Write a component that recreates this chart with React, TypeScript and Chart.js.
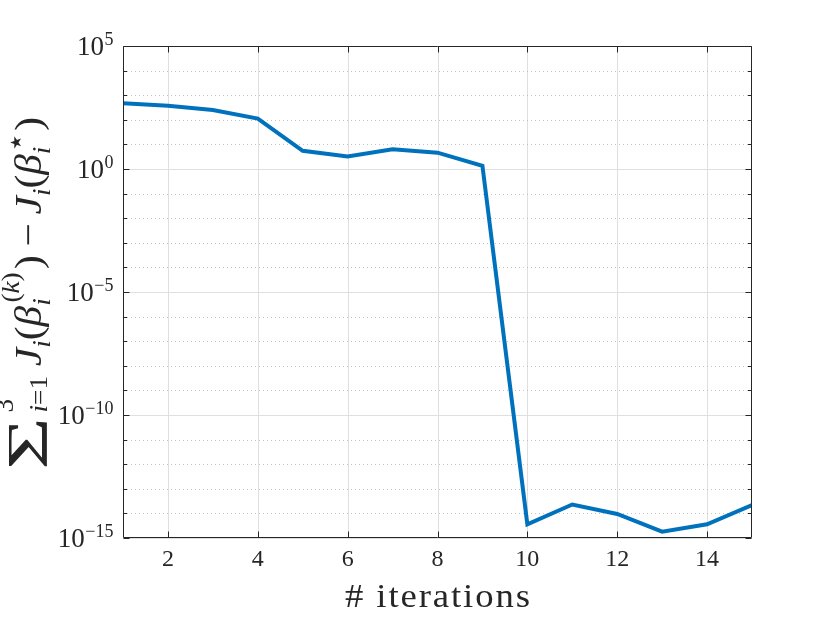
import React, { useEffect, useRef } from 'react';
import { Chart, registerables } from 'chart.js';

Chart.register(...registerables);

// ---- data ----
const iterations = [1, 2, 3, 4, 5, 6, 7, 8, 9, 10, 11, 12, 13, 14, 15];
const residual = [470, 370, 250, 112, 5.5, 3.2, 6.3, 4.6, 1.35, 3.6e-15, 2.3e-14, 9.5e-15, 1.8e-15, 3.6e-15, 2.2e-14];

const xTicks = [2, 4, 6, 8, 10, 12, 14];
const xTickLabels = ['2', '4', '6', '8', '10', '12', '14'];
const yDecades = [1e-15, 1e-14, 1e-13, 1e-12, 1e-11, 1e-10, 1e-9, 1e-8, 1e-7, 1e-6, 1e-5, 1e-4, 1e-3, 1e-2, 1e-1, 1e0, 1e1, 1e2, 1e3, 1e4, 1e5];
const yMajor = [1e-15, 1e-10, 1e-5, 1e0, 1e5];
const yMajorExpLabels = ['\u221215', '\u221210', '\u22125', '0', '5'];
const xTitle = '# iterations';

const AX = '#262626';
const LINE = '#0072BD';
const SERIF = '"Liberation Serif", "DejaVu Serif", serif';

type Run = { t: string; f: string; dv: number; du?: number };
type Item =
  | { kind: 'runs'; runs: Run[] }
  | { kind: 'stack'; sup: Run[]; sub: Run[] }
  | { kind: 'gap'; w: number }
  | { kind: 'sigma'; w: number };

const M = 38;
const S = 25;
const rom = (s: number) => `${s}px ${SERIF}`;
const ita = (s: number) => `italic ${s}px ${SERIF}`;
const SUP = -22;
const SUB = 9;

const yTitleItems: Item[] = [
  { kind: 'sigma', w: 46 },
  { kind: 'gap', w: 4 },
  {
    kind: 'stack',
    sup: [{ t: '3', f: rom(S), dv: -28 }],
    sub: [{ t: 'i', f: ita(S), dv: 6 }, { t: '=1', f: rom(S), dv: 6 }],
  },
  { kind: 'gap', w: 9 },
  { kind: 'runs', runs: [{ t: 'J', f: ita(M), dv: 0 }, { t: 'i', f: ita(S), dv: SUB }, { t: '(', f: rom(M), dv: 0 }, { t: '\u03B2', f: ita(M), dv: 0 }] },
  {
    kind: 'stack',
    sup: [{ t: '(', f: rom(S), dv: SUP, du: 3 }, { t: 'k', f: ita(S), dv: SUP }, { t: ')', f: rom(S), dv: SUP }],
    sub: [{ t: 'i', f: ita(S), dv: SUB }],
  },
  { kind: 'gap', w: 3 },
  { kind: 'runs', runs: [{ t: ')', f: rom(M), dv: 0 }] },
  { kind: 'gap', w: 8 },
  { kind: 'runs', runs: [{ t: '\u2212', f: rom(M), dv: 0 }] },
  { kind: 'gap', w: 8 },
  { kind: 'runs', runs: [{ t: 'J', f: ita(M), dv: 0 }, { t: 'i', f: ita(S), dv: SUB }, { t: '(', f: rom(M), dv: 0 }, { t: '\u03B2', f: ita(M), dv: 0 }] },
  {
    kind: 'stack',
    sup: [{ t: '\u2605', f: `15px "DejaVu Sans", ${SERIF}`, dv: SUP + 2, du: 4 }],
    sub: [{ t: 'i', f: ita(S), dv: SUB }],
  },
  { kind: 'gap', w: 4 },
  { kind: 'runs', runs: [{ t: ')', f: rom(M), dv: 0 }] },
];

function runsWidth(ctx: CanvasRenderingContext2D, runs: Run[]) {
  let w = 0;
  for (const r of runs) {
    ctx.font = r.f;
    w += ctx.measureText(r.t).width + (r.du || 0);
  }
  return w;
}

function itemWidth(ctx: CanvasRenderingContext2D, it: Item) {
  if (it.kind === 'runs') return runsWidth(ctx, it.runs);
  if (it.kind === 'stack') return Math.max(runsWidth(ctx, it.sup), runsWidth(ctx, it.sub));
  return it.w;
}

function drawRuns(ctx: CanvasRenderingContext2D, runs: Run[], u: number) {
  for (const r of runs) {
    ctx.font = r.f;
    u += r.du || 0;
    ctx.fillText(r.t, u, r.dv);
    u += ctx.measureText(r.t).width;
  }
}

function drawYTitle(ctx: CanvasRenderingContext2D, baseX: number, centerY: number, targetLen: number) {
  ctx.save();
  ctx.fillStyle = AX;
  ctx.textAlign = 'left';
  ctx.textBaseline = 'alphabetic';
  let L = 0;
  for (const it of yTitleItems) L += itemWidth(ctx, it);
  let k = targetLen / L;
  k = Math.max(0.85, Math.min(1.2, k));
  ctx.translate(baseX, centerY);
  ctx.rotate(-Math.PI / 2);
  ctx.scale(k, 1);
  let u = -L / 2;
  for (const it of yTitleItems) {
    if (it.kind === 'runs') {
      drawRuns(ctx, it.runs, u);
    } else if (it.kind === 'stack') {
      drawRuns(ctx, it.sup, u);
      drawRuns(ctx, it.sub, u);
    } else if (it.kind === 'sigma') {
      ctx.save();
      ctx.font = `100px ${SERIF}`;
      const m = ctx.measureText('\u03A3');
      const gw = m.actualBoundingBoxLeft + m.actualBoundingBoxRight;
      const gh = m.actualBoundingBoxAscent + m.actualBoundingBoxDescent;
      const sx = (it.w / k) / gw;
      const sy = 38 / gh;
      ctx.translate(u, 7);
      ctx.scale(sx, sy);
      ctx.fillText('\u03A3', m.actualBoundingBoxLeft, -m.actualBoundingBoxDescent);
      ctx.restore();
    }
    u += itemWidth(ctx, it);
  }
  ctx.restore();
}

const axesPlugin = {
  id: 'matlabAxes',
  beforeDatasetsDraw(chart: any) {
    const { ctx, chartArea: a, scales } = chart;
    const x = scales.x;
    const y = scales.y;
    ctx.save();
    ctx.lineWidth = 1;
    ctx.strokeStyle = '#dfdfdf';
    for (const v of xTicks) {
      const px = Math.round(x.getPixelForValue(v)) + 0.5;
      ctx.beginPath();
      ctx.moveTo(px, a.top);
      ctx.lineTo(px, a.bottom);
      ctx.stroke();
    }
    for (const v of yDecades) {
      const py = Math.round(y.getPixelForValue(v)) + 0.5;
      const major = yMajor.includes(v);
      if (major) {
        ctx.setLineDash([]);
        ctx.strokeStyle = '#dfdfdf';
      } else {
        ctx.setLineDash([1, 3]);
        ctx.strokeStyle = '#c4c4c4';
      }
      ctx.beginPath();
      ctx.moveTo(a.left, py);
      ctx.lineTo(a.right, py);
      ctx.stroke();
    }
    ctx.restore();
  },
  afterDraw(chart: any) {
    const { ctx, chartArea: a, scales } = chart;
    const x = scales.x;
    const y = scales.y;
    ctx.save();
    ctx.strokeStyle = AX;
    ctx.lineWidth = 1;
    ctx.setLineDash([]);
    const L = Math.round(a.left) + 0.5;
    const R = Math.round(a.right) - 0.5;
    const T = Math.round(a.top) + 0.5;
    const B = Math.round(a.bottom) - 0.5;
    ctx.beginPath();
    ctx.rect(L, T, R - L, B - T);
    ctx.stroke();
    for (const v of yDecades) {
      const py = Math.round(y.getPixelForValue(v)) + 0.5;
      const len = yMajor.includes(v) ? 6 : 3.5;
      ctx.beginPath();
      ctx.moveTo(L, py);
      ctx.lineTo(L + len, py);
      ctx.moveTo(R, py);
      ctx.lineTo(R - len, py);
      ctx.stroke();
    }
    for (const v of xTicks) {
      const px = Math.round(x.getPixelForValue(v)) + 0.5;
      ctx.beginPath();
      ctx.moveTo(px, B);
      ctx.lineTo(px, B - 6);
      ctx.moveTo(px, T);
      ctx.lineTo(px, T + 6);
      ctx.stroke();
    }
    ctx.fillStyle = AX;
    ctx.textAlign = 'center';
    ctx.textBaseline = 'alphabetic';
    ctx.font = `24px ${SERIF}`;
    xTicks.forEach((v, i) => {
      ctx.fillText(xTickLabels[i], x.getPixelForValue(v), a.bottom + 28);
    });
    ctx.textAlign = 'right';
    const rightEdge = a.left - 9.5;
    yMajor.forEach((v, i) => {
      const py = y.getPixelForValue(v);
      const base = py + 8.5;
      ctx.font = `18px ${SERIF}`;
      const ew = ctx.measureText(yMajorExpLabels[i]).width;
      ctx.fillText(yMajorExpLabels[i], rightEdge, base - 10);
      ctx.font = `27px ${SERIF}`;
      ctx.fillText('10', rightEdge - ew - 0.5, base);
    });
    ctx.textAlign = 'left';
    ctx.font = `34px ${SERIF}`;
    const sxT = 1.08;
    const nat = ctx.measureText(xTitle).width * sxT;
    const target = 185;
    const ls = Math.max(0, (target - nat) / (xTitle.length - 1) / sxT);
    (ctx as any).letterSpacing = `${ls}px`;
    const cx = (a.left + a.right) / 2;
    ctx.save();
    ctx.translate(cx - target / 2, 607);
    ctx.scale(sxT, 1);
    ctx.fillText(xTitle, 0, 0);
    ctx.restore();
    (ctx as any).letterSpacing = '0px';
    ctx.restore();
    drawYTitle(ctx, 41, (a.top + a.bottom) / 2, 350);
  },
};

export default function App() {
  const ref = useRef<HTMLCanvasElement | null>(null);
  useEffect(() => {
    const canvas = ref.current;
    if (!canvas) return;
    const chart = new Chart(canvas, {
      type: 'line',
      data: {
        datasets: [
          {
            data: iterations.map((it, i) => ({ x: it, y: residual[i] })),
            borderColor: LINE,
            borderWidth: 4,
            pointRadius: 0,
            tension: 0,
            fill: false,
          },
        ],
      },
      options: {
        animation: false,
        responsive: false,
        devicePixelRatio: 1,
        events: [],
        layout: { padding: { left: 123, top: 46, right: 78, bottom: 85 } },
        plugins: { legend: { display: false }, tooltip: { enabled: false }, title: { display: false } },
        scales: {
          x: { type: 'linear', min: 1, max: 15, display: false },
          y: { type: 'logarithmic', min: 1e-15, max: 1e5, display: false },
        },
      },
      plugins: [axesPlugin],
    } as any);
    return () => chart.destroy();
  }, []);
  return (
    <div style={{ position: 'absolute', left: 0, top: 0, width: 830, height: 623, background: '#fff' }}>
      <canvas ref={ref} width={830} height={623} style={{ display: 'block' }} />
    </div>
  );
}
